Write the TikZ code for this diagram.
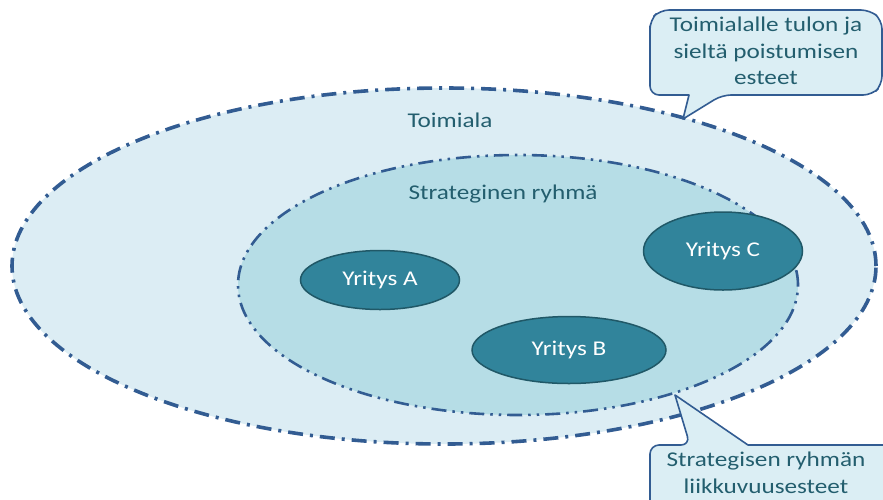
\documentclass[tikz,border=0pt]{standalone}
\usepackage{fontspec}
\setmainfont{Carlito}[FakeStretch=1.2]
\usetikzlibrary{shapes.geometric}
\definecolor{outerfill}{HTML}{DCEDF4}
\definecolor{innerfill}{HTML}{B6DDE6}
\definecolor{firmfill}{HTML}{31849B}
\definecolor{firmedge}{HTML}{205867}
\definecolor{bordercol}{HTML}{325C92}
\definecolor{labeltext}{HTML}{235E6E}
\definecolor{calloutfill}{HTML}{DBEEF4}
\tikzset{
  industry/.style={ellipse, fill=outerfill, draw=bordercol, line width=3.6pt,
    dash pattern=on 15pt off 7pt on 3pt off 7pt},
  group/.style={ellipse, fill=innerfill, draw=bordercol, line width=2.6pt,
    dash pattern=on 15pt off 6pt on 2.5pt off 6pt on 2.5pt off 6pt},
  firm/.style={ellipse, fill=firmfill, draw=firmedge, line width=1.5pt,
    text=white, font=\fontsize{21}{24}\selectfont, inner sep=0pt},
  arealabel/.style={text=labeltext, font=\fontsize{21}{24}\selectfont},
  callouttext/.style={text=labeltext, align=center, font=\fontsize{21}{26.5}\selectfont},
  calloutbox/.style={fill=calloutfill, draw=bordercol, line width=1.6pt, rounded corners=9pt, line join=round}
}
\begin{document}
\begin{tikzpicture}[x=1pt,y=-1pt]
\useasboundingbox (0,0) rectangle (883,499);
\clip (0,0) rectangle (883,499);

% industry and strategic group areas
\node[industry, minimum width=864pt, minimum height=356pt] (industry) at (444,266) {};
\node[group, minimum width=560pt, minimum height=260pt] (group) at (518,285) {};
\node[arealabel] (industrylabel) at (450,120) {Toimiala};
\node[arealabel] (grouplabel) at (503,194) {Strateginen ryhmä};

% firms
\node[firm, minimum width=159pt, minimum height=59pt] (firmA) at (380,280) {Yritys A};
\node[firm, minimum width=194pt, minimum height=67pt] (firmB) at (569,350) {Yritys B};
\node[firm, minimum width=159pt, minimum height=78pt] (firmC) at (723,251) {Yritys C};

% callout: entry and exit barriers
\coordinate (tipentry) at (683,119);
\draw[calloutbox] (650,35) -- (650,20) -- (660,10) -- (870,10) -- (882,20) -- (882,85) -- (872,95)
  -- (722,95) [sharp corners] -- (tipentry) -- (689,95) [rounded corners=9pt] -- (650,95) -- cycle;
\node[callouttext] (entrytext) at (766,51) {Toimialalle tulon ja\\sieltä poistumisen\\esteet};

% callout: mobility barriers
\coordinate (tipmobility) at (675,395);
\draw[calloutbox] (650,520) -- (650,445) -- (690,445) [sharp corners] -- (tipmobility) -- (748,445)
  [rounded corners=9pt] -- (895,445) -- (895,520) -- cycle;
\node[callouttext] (mobilitytext) at (766,473) {Strategisen ryhmän\\liikkuvuusesteet};
\end{tikzpicture}
\end{document}
